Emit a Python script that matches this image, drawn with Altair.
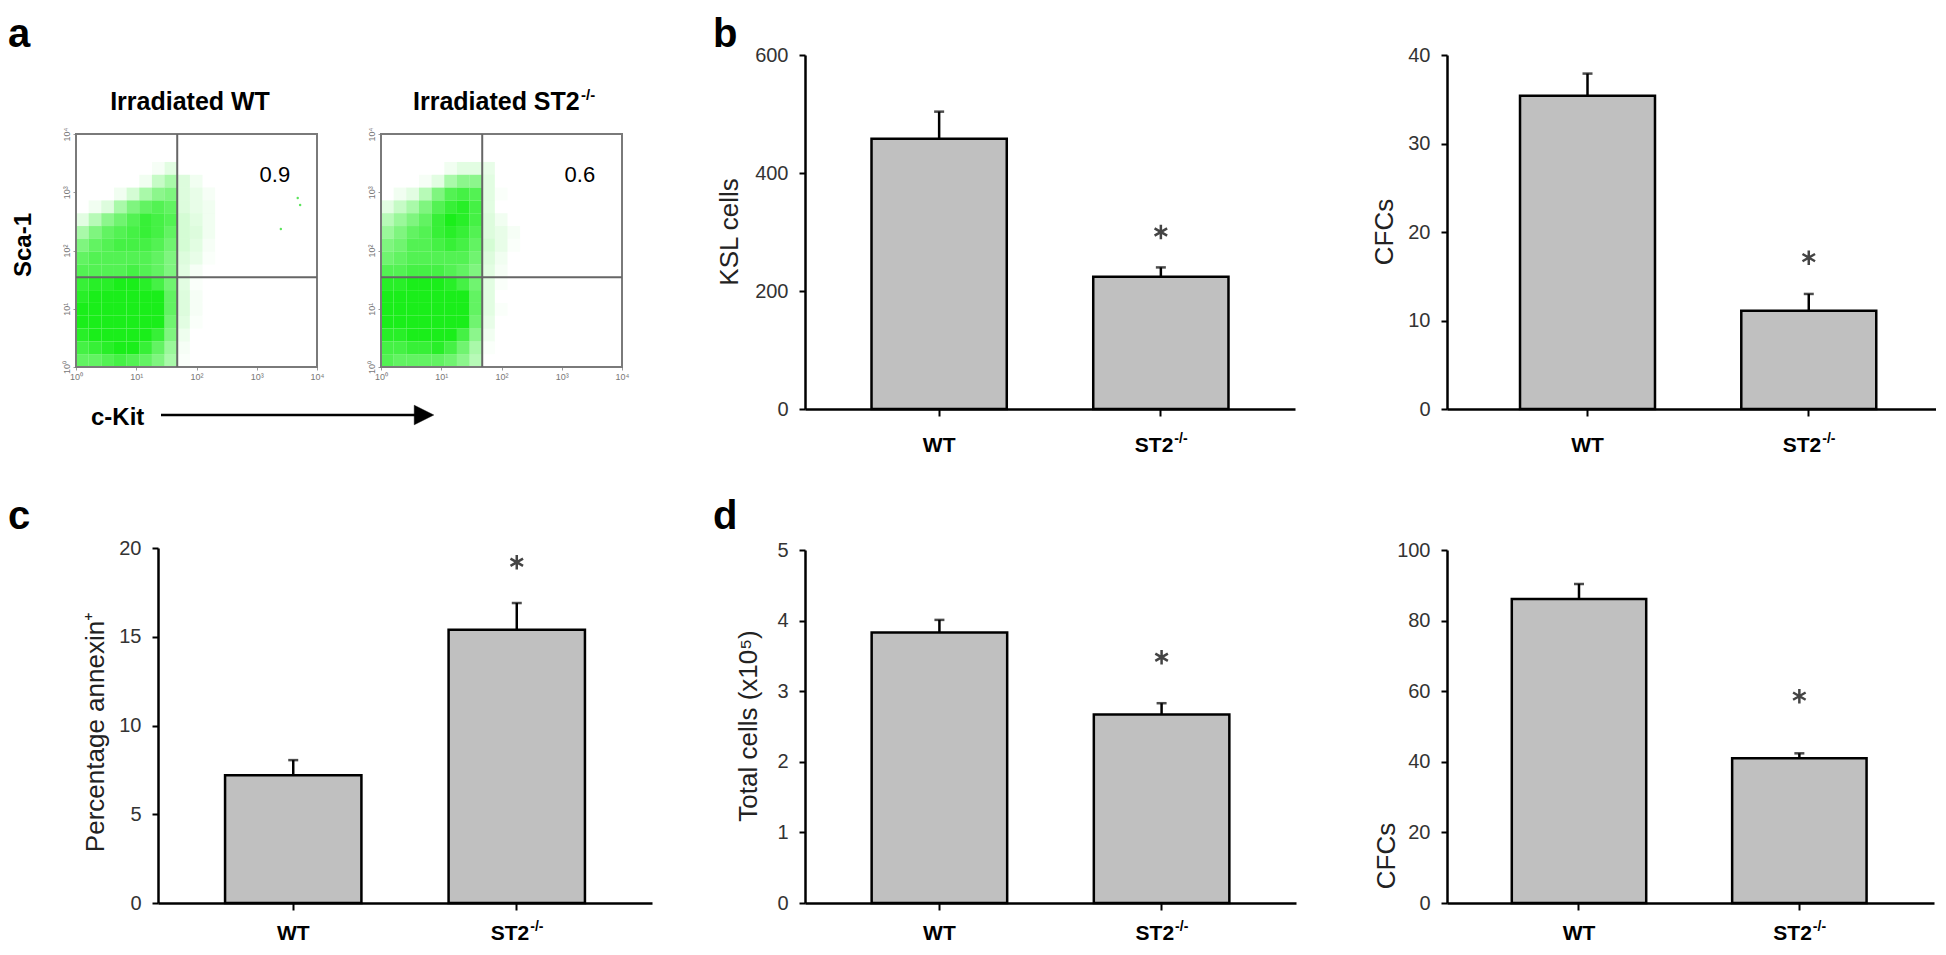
import altair as alt
import pandas as pd

FONT = "Liberation Sans, Arial, sans-serif"
ASTERISK = "M0,-1L0,1M-0.866,-0.5L0.866,0.5M-0.866,0.5L0.866,-0.5"

# ---------------- data ----------------
categories = ["WT", "ST2"]

ksl_mean = [458, 224]
ksl_err = [46, 16]
ksl_star = 300

cfcb_mean = [35.4, 11.1]
cfcb_err = [2.5, 1.9]
cfcb_star = 17.1

annexin_mean = [7.2, 15.4]
annexin_err = [0.85, 1.5]
annexin_star = 19.2

total_mean = [3.83, 2.67]
total_err = [0.18, 0.16]
total_star = 3.48

cfcd_mean = [86.1, 41.0]
cfcd_err = [4.3, 1.4]
cfcd_star = 58.6

# flow cytometry: density read per cell, log10 decades (c-Kit x, Sca-1 y)
kit_edges = [0, 0.21, 0.42, 0.63, 0.84, 1.05, 1.26, 1.47, 1.68, 1.89, 2.10, 2.31]
sca_edges = [0, 0.22, 0.44, 0.66, 0.88, 1.10, 1.32, 1.54, 1.76, 1.98, 2.20,
             2.42, 2.64, 2.86, 3.08, 3.30, 3.52]
# rows listed from top (highest Sca-1) to bottom
dens_wt = [
    [0, 0, 0, 0, 0, 0, 0.03, 0.10, 0, 0, 0],
    [0, 0, 0, 0, 0, 0.05, 0.20, 0.30, 0.12, 0.05, 0],
    [0, 0, 0, 0.05, 0.15, 0.30, 0.40, 0.45, 0.12, 0.08, 0.03],
    [0, 0.05, 0.12, 0.30, 0.45, 0.55, 0.60, 0.55, 0.12, 0.08, 0.05],
    [0.10, 0.25, 0.40, 0.50, 0.60, 0.70, 0.65, 0.60, 0.15, 0.10, 0.05],
    [0.30, 0.45, 0.55, 0.60, 0.65, 0.70, 0.65, 0.55, 0.15, 0.12, 0.05],
    [0.45, 0.55, 0.60, 0.65, 0.65, 0.65, 0.60, 0.50, 0.15, 0.10, 0.03],
    [0.55, 0.60, 0.60, 0.60, 0.60, 0.60, 0.55, 0.45, 0.12, 0.08, 0.02],
    [0.60, 0.60, 0.60, 0.60, 0.65, 0.60, 0.55, 0.45, 0.10, 0.03, 0],
    [0.70, 0.75, 0.75, 0.80, 0.80, 0.75, 0.65, 0.50, 0.10, 0.02, 0],
    [0.75, 0.85, 0.90, 0.95, 0.95, 0.90, 0.80, 0.55, 0.12, 0.03, 0],
    [0.80, 0.90, 0.95, 1.00, 1.00, 0.95, 0.85, 0.55, 0.12, 0.03, 0],
    [0.80, 0.90, 0.95, 1.00, 1.00, 0.95, 0.80, 0.50, 0.10, 0.02, 0],
    [0.75, 0.85, 0.90, 0.95, 0.95, 0.85, 0.70, 0.45, 0.06, 0, 0],
    [0.65, 0.70, 0.75, 0.80, 0.80, 0.70, 0.55, 0.35, 0.03, 0, 0],
    [0.55, 0.55, 0.60, 0.65, 0.60, 0.55, 0.45, 0.30, 0.02, 0, 0],
]
dens_st2 = [
    [0, 0, 0, 0, 0, 0.05, 0.10, 0.10, 0.08, 0, 0],
    [0, 0, 0, 0.03, 0.10, 0.30, 0.40, 0.40, 0.10, 0, 0],
    [0, 0.05, 0.10, 0.25, 0.45, 0.60, 0.65, 0.60, 0.10, 0.02, 0],
    [0.10, 0.20, 0.30, 0.45, 0.60, 0.70, 0.75, 0.65, 0.10, 0, 0],
    [0.25, 0.35, 0.45, 0.55, 0.70, 0.80, 0.75, 0.65, 0.12, 0.05, 0],
    [0.35, 0.45, 0.55, 0.60, 0.70, 0.75, 0.70, 0.60, 0.12, 0.08, 0.03],
    [0.45, 0.50, 0.60, 0.60, 0.65, 0.70, 0.65, 0.55, 0.15, 0.08, 0.02],
    [0.50, 0.55, 0.60, 0.60, 0.60, 0.60, 0.60, 0.50, 0.12, 0.05, 0],
    [0.60, 0.60, 0.65, 0.65, 0.65, 0.60, 0.55, 0.45, 0.10, 0.03, 0],
    [0.75, 0.75, 0.80, 0.80, 0.80, 0.75, 0.65, 0.50, 0.10, 0.02, 0],
    [0.85, 0.85, 0.90, 0.95, 0.95, 0.90, 0.80, 0.55, 0.10, 0, 0],
    [0.85, 0.90, 0.95, 1.00, 1.00, 0.95, 0.85, 0.55, 0.10, 0.02, 0],
    [0.80, 0.85, 0.90, 0.95, 1.00, 0.95, 0.80, 0.50, 0.08, 0, 0],
    [0.75, 0.75, 0.80, 0.85, 0.90, 0.80, 0.65, 0.40, 0.05, 0, 0],
    [0.65, 0.65, 0.70, 0.70, 0.75, 0.65, 0.50, 0.30, 0.02, 0, 0],
    [0.60, 0.55, 0.55, 0.55, 0.55, 0.50, 0.40, 0.25, 0, 0, 0],
]
outlier_kit_wt = [3.68, 3.72, 3.40]
outlier_sca_wt = [2.90, 2.78, 2.37]
outlier_kit_st2 = []
outlier_sca_st2 = []
gate_kit = [1.68, 1.68]
gate_sca = [1.54, 1.54]
quadrant_pct = ["0.9", "0.6"]


# ---------------- helpers ----------------
def txt(text, x, y, size, weight="normal", align="left", angle=0,
        baseline="alphabetic", color="black"):
    return alt.Chart(pd.DataFrame({"t": [text]})).mark_text(
        font=FONT, fontSize=size, fontWeight=weight, align=align,
        baseline=baseline, angle=angle, color=color
    ).encode(x=alt.value(x), y=alt.value(y), text="t:N")


def empty(*extra):
    blank = alt.Chart(pd.DataFrame({"t": [""]})).mark_text().encode(
        x=alt.value(0), y=alt.value(0), text="t:N")
    return alt.layer(blank, *extra).properties(width=1, height=1)


def bar_panel(mean, err, star, ymax, ystep, xr, yr, lab_y, align=0.5):
    df = pd.DataFrame({"cat": categories, "mean": mean,
                       "top": [m + e for m, e in zip(mean, err)]})
    sdf = pd.DataFrame({"cat": [categories[1]], "star": [star]})
    xs = alt.Scale(domain=categories, range=list(xr),
                   paddingInner=0.39, paddingOuter=0.30, align=align)
    ys = alt.Scale(domain=[0, ymax], range=list(yr), nice=False, zero=True)
    xaxis = alt.Axis(orient="bottom", labels=False, title=None, grid=False,
                     domainColor="black", domainWidth=2.5, tickColor="black",
                     tickWidth=2, tickSize=7)
    yaxis = alt.Axis(orient="left", values=list(range(0, ymax + 1, ystep)),
                     tickCount=12, format="d", title=None, grid=False,
                     labelFont=FONT, labelFontSize=20, labelColor="#333333",
                     labelPadding=11, tickSize=6, tickWidth=2,
                     tickColor="black", domainColor="black", domainWidth=2.5)
    base = alt.Chart(df)
    bars = base.mark_bar(fill="#c0c0c0", stroke="black", strokeWidth=2.5).encode(
        x=alt.X("cat:N", scale=xs, axis=xaxis),
        y=alt.Y("mean:Q", scale=ys, axis=yaxis))
    whisk = base.mark_rule(color="black", strokeWidth=2.5).encode(
        x="cat:N", y="mean:Q", y2="top:Q")
    cap = base.mark_tick(color="black", thickness=2.5, size=10).encode(
        x="cat:N", y="top:Q")
    st = alt.Chart(sdf).mark_point(shape=ASTERISK, filled=False,
                                   stroke="#444444", strokeWidth=2.5,
                                   size=210, opacity=1).encode(
        x="cat:N", y="star:Q")
    lab_wt = base.transform_filter(alt.datum.cat == "WT").mark_text(
        font=FONT, fontSize=21, fontWeight="bold", align="center",
        baseline="alphabetic").encode(
        x="cat:N", y=alt.value(lab_y), text="cat:N")
    lab_st = base.transform_filter(alt.datum.cat == "ST2").mark_text(
        font=FONT, fontSize=21, fontWeight="bold", align="right", dx=12.5,
        baseline="alphabetic").encode(
        x="cat:N", y=alt.value(lab_y), text="cat:N")
    lab_sup = base.transform_filter(alt.datum.cat == "ST2").mark_text(
        font=FONT, fontSize=14, fontWeight="bold", align="left", dx=13.5,
        baseline="alphabetic").encode(
        x="cat:N", y=alt.value(lab_y - 9), text=alt.value("-/-"))
    return [bars, whisk, cap, st, lab_wt, lab_st, lab_sup]


def scatter_panel(dens, out_x, out_y, gx, gy, pct, xr, yr):
    recs = []
    n = len(dens)
    for i, row in enumerate(dens):
        yi = n - 1 - i
        for j, v in enumerate(row):
            if v > 0:
                recs.append({"x0": kit_edges[j], "x1": kit_edges[j + 1],
                             "y0": sca_edges[yi], "y1": sca_edges[yi + 1],
                             "d": v})
    df = pd.DataFrame(recs)
    xs = alt.Scale(domain=[0, 4], range=list(xr), nice=False, zero=False)
    ys = alt.Scale(domain=[0, 4], range=list(yr), nice=False, zero=False)
    lab = "['10\u2070','10\u00b9','10\u00b2','10\u00b3','10\u2074'][datum.value]"
    common = dict(values=[0, 1, 2, 3, 4], tickCount=10, labelExpr=lab,
                  labelFont=FONT, labelFontSize=9, labelColor="#777777",
                  tickSize=3, tickColor="#999999", domain=False, grid=False,
                  title=None, labelPadding=2, labelOverlap=False,
                  labelFlush=False)
    xaxis = alt.Axis(orient="bottom", **common)
    yaxis = alt.Axis(orient="left", labelAngle=270, **common)
    cells = alt.Chart(df).mark_rect(fill="#1aee1a").encode(
        x=alt.X("x0:Q", scale=xs, axis=xaxis), x2="x1:Q",
        y=alt.Y("y0:Q", scale=ys, axis=yaxis), y2="y1:Q",
        opacity=alt.Opacity("d:Q", scale=alt.Scale(domain=[0, 0.8], range=[0, 1],
                                                   clamp=True),
                            legend=None))
    layers = [cells]
    if out_x:
        odf = pd.DataFrame({"kx": out_x, "sy": out_y})
        layers.append(alt.Chart(odf).mark_circle(color="#33dd33", size=6, opacity=0.8).encode(
            x="kx:Q", y="sy:Q"))
    one = pd.DataFrame({"gx": [gx], "gy": [gy], "pct": [pct]})
    frame = alt.Chart(one).mark_rect(fillOpacity=0, stroke="#7a7a7a", strokeWidth=2).encode(
        x=alt.datum(0), x2=alt.datum(4), y=alt.datum(0), y2=alt.datum(4))
    vgate = alt.Chart(one).mark_rule(color="#666666", strokeWidth=2).encode(
        x="gx:Q", y=alt.datum(0), y2=alt.datum(4))
    hgate = alt.Chart(one).mark_rule(color="#666666", strokeWidth=2).encode(
        y="gy:Q", x=alt.datum(0), x2=alt.datum(4))
    ptxt = alt.Chart(one).mark_text(font=FONT, fontSize=22, color="black",
                                    align="center", baseline="middle").encode(
        x=alt.datum(3.30), y=alt.datum(3.30), text="pct:N")
    layers += [frame, vgate, hgate, ptxt]
    return layers


TITLE = dict(align="center", angle=270, baseline="middle", color="#222222")

# invisible corner that pins the top-left of the figure to the page margin
corner = alt.Chart(pd.DataFrame({"k": [0]})).mark_rule(color="white", strokeWidth=1).encode(
    x=alt.value(-67.5), y=alt.value(-46.5), y2=alt.value(-45.5))

# ---------------- cells of the figure grid (5 columns x 2 rows) ----------------
a1 = alt.layer(
    *scatter_panel(dens_wt, outlier_kit_wt, outlier_sca_wt, gate_kit[0], gate_sca[0],
                   quadrant_pct[0], (0, 241), (312, 79)),
    corner,
    txt("a", -68, -8, 40, "bold"),
    txt("Irradiated WT", 114, 55, 25, "bold", align="center"),
    txt("Sca-1", -52, 190, 24, "bold", align="center", angle=270, baseline="middle"),
    txt("c-Kit", 15, 370, 24, "bold"),
    alt.Chart(pd.DataFrame({"k": [0]})).mark_rule(color="black", strokeWidth=2.5).encode(
        x=alt.value(85), x2=alt.value(342), y=alt.value(360)),
    alt.Chart(pd.DataFrame({"k": [0]})).mark_point(
        shape="M-1,-1L1,0L-1,1Z", filled=True, fill="black", stroke="black",
        strokeWidth=0.5, size=380, opacity=1).encode(x=alt.value(348), y=alt.value(360)),
).properties(width=82, height=312)

a2 = alt.layer(
    *scatter_panel(dens_st2, outlier_kit_st2, outlier_sca_st2, gate_kit[1], gate_sca[1],
                   quadrant_pct[1], (0, 241), (312, 79)),
    txt("Irradiated ST2", 32, 55, 25, "bold"),
    txt("-/-", 200, 45, 15, "bold"),
).properties(width=424, height=312)

b1 = alt.layer(
    *bar_panel(ksl_mean, ksl_err, ksl_star, 600, 200, (0, 490), (354, 0), 397),
    txt("b", -92, -8, 40, "bold"),
    txt("KSL cells", -75, 177, 26, **TITLE),
).properties(width=642, height=354)

b2 = alt.layer(
    *bar_panel(cfcb_mean, cfcb_err, cfcb_star, 40, 10, (0, 489), (354, 0), 397, align=0.55),
    txt("CFCs", -62, 177, 26, **TITLE),
).properties(width=489, height=354)

c1 = alt.layer(
    *bar_panel(annexin_mean, annexin_err, annexin_star, 20, 5, (0, 494), (363, 8), 400),
    txt("Percentage annexin\u207a", -62, 192, 26, **TITLE),
).properties(width=223, height=363)

d1 = alt.layer(
    *bar_panel(total_mean, total_err, total_star, 5, 1, (0, 491), (363, 10), 400),
    txt("d", -92, -11, 40, "bold"),
    txt("Total cells (x10\u2075)", -56, 186, 26, **TITLE),
).properties(width=642, height=363)

d2 = alt.layer(
    *bar_panel(cfcd_mean, cfcd_err, cfcd_star, 100, 20, (0, 487), (363, 10), 400, align=0.49),
    txt("CFCs", -60, 316, 26, **TITLE),
).properties(width=489, height=363)

chart = alt.concat(
    a1, empty(), a2, b1, b2,
    empty(txt("c", -68, -11, 40, "bold")), c1, empty(), d1, d2,
    columns=5,
    spacing={"row": 131, "column": 0},
    bounds="flush",
    align="each",
).properties(padding=0).configure_view(stroke=None)

chart.save("out.html", embed_options={"renderer": "svg", "actions": False})
